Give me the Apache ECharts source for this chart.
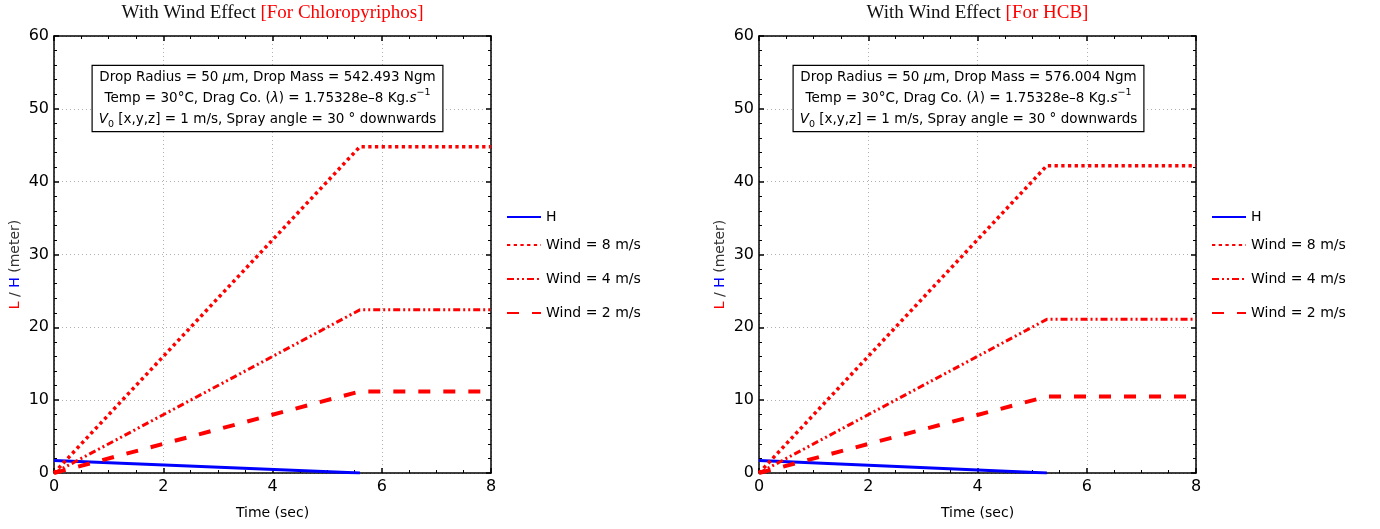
<!DOCTYPE html>
<html>
<head>
<meta charset="utf-8">
<script src="https://cdn.jsdelivr.net/npm/echarts@6/dist/echarts.min.js"></script>
<style>
  html, body { margin: 0; padding: 0; background: #fff; }
  #chart { width: 1380px; height: 529px; }
</style>
</head>
<body>
<div id="chart"></div>
<script>
// time (sec) at start, at landing, and end of axis
const timeLeft = [0, 5.6, 8];
const heightLeft = [1.7, 0];
const wind8Left = [0, 44.8, 44.8];
const wind4Left = [0, 22.4, 22.4];
const wind2Left = [0, 11.2, 11.2];

const timeRight = [0, 5.27, 8];
const heightRight = [1.7, 0];
const wind8Right = [0, 42.2, 42.2];
const wind4Right = [0, 21.1, 21.1];
const wind2Right = [0, 10.5, 10.5];

const xTicks = [0, 2, 4, 6, 8];
const yTicks = [0, 10, 20, 30, 40, 50, 60];
const seriesNames = ['H', 'Wind = 8 m/s', 'Wind = 4 m/s', 'Wind = 2 m/s'];
const compounds = ['Chloropyriphos', 'HCB'];
const dropMass = ['542.493', '576.004'];

const panels = [
  { left: 54, boxShift: -5, time: timeLeft, h: heightLeft, w8: wind8Left, w4: wind4Left, w2: wind2Left },
  { left: 759, boxShift: -9, time: timeRight, h: heightRight, w8: wind8Right, w4: wind4Right, w2: wind2Right }
];

const SANS = 'DejaVu Sans';
const PLOT = 437;
const TOP = 36;

const pair = (t, v) => v.map((y, i) => [t[i], y]);

const grid = [], xAxis = [], yAxis = [], series = [], legend = [], graphic = [];

panels.forEach((p, g) => {
  grid.push({ left: p.left, top: TOP, width: PLOT, height: PLOT });

  const frameLine = { show: true, onZero: false, lineStyle: { color: '#000', width: 1.5 } };
  const tick = { show: true, inside: true, length: 5, lineStyle: { color: '#000', width: 1.5 } };
  const minor = (n) => ({ show: true, splitNumber: n, length: 3, lineStyle: { color: '#000', width: 1 } });
  const dotted = { show: true, lineStyle: { color: '#b0b0b0', type: [1, 3], width: 1 } };

  xAxis.push({
    type: 'value', gridIndex: g, min: xTicks[0], max: xTicks[xTicks.length - 1], interval: 2,
    position: 'bottom',
    axisLine: frameLine, axisTick: tick, minorTick: minor(4), splitLine: dotted,
    axisLabel: { color: '#000', fontFamily: SANS, fontSize: 16, margin: 6 },
    name: 'Time (sec)', nameLocation: 'middle', nameGap: 33,
    nameTextStyle: { color: '#000', fontFamily: SANS, fontSize: 14 }
  });
  xAxis.push({
    type: 'value', gridIndex: g, min: 0, max: 8, interval: 2, position: 'top',
    axisLine: frameLine, axisTick: tick, minorTick: minor(4),
    splitLine: { show: false }, axisLabel: { show: false }
  });
  yAxis.push({
    type: 'value', gridIndex: g, min: yTicks[0], max: yTicks[yTicks.length - 1], interval: 10,
    position: 'left',
    axisLine: frameLine, axisTick: tick, minorTick: minor(5), splitLine: dotted,
    axisLabel: { color: '#000', fontFamily: SANS, fontSize: 16, margin: 5 },
    name: '{l|L} / {h|H} (meter)', nameLocation: 'middle', nameGap: 32, nameRotate: 90,
    nameTextStyle: {
      color: '#333', fontFamily: SANS, fontSize: 14, padding: [0, 20, 0, 0],
      rich: {
        l: { color: '#ff0000', fontFamily: SANS, fontSize: 14 },
        h: { color: '#0000ff', fontFamily: SANS, fontSize: 14 }
      }
    }
  });
  yAxis.push({
    type: 'value', gridIndex: g, min: 0, max: 60, interval: 10, position: 'right',
    axisLine: frameLine, axisTick: tick, minorTick: minor(5),
    splitLine: { show: false }, axisLabel: { show: false }
  });

  const xi = g * 2, yi = g * 2;
  const base = { type: 'line', xAxisIndex: xi, yAxisIndex: yi, showSymbol: false, symbol: 'none', animation: false, silent: true };
  series.push(
    { ...base, name: seriesNames[0], data: pair(p.time, p.h),
      lineStyle: { color: '#0000ff', width: 3 }, itemStyle: { color: '#0000ff' } },
    { ...base, name: seriesNames[1], data: pair(p.time, p.w8),
      lineStyle: { color: '#ff0000', width: 3.5, type: [3.3, 3.4] }, itemStyle: { color: '#ff0000' } },
    { ...base, name: seriesNames[2], data: pair(p.time, p.w4),
      lineStyle: { color: '#ff0000', width: 3, type: [7, 3, 2, 3, 2, 3] }, itemStyle: { color: '#ff0000' } },
    { ...base, name: seriesNames[3], data: pair(p.time, p.w2),
      lineStyle: { color: '#ff0000', width: 4, type: [12, 13] }, itemStyle: { color: '#ff0000' } }
  );

  const legendTops = [205, 233, 267, 301];
  seriesNames.forEach((n, k) => {
    legend.push({
      data: [n], left: p.left + PLOT + 10, top: legendTops[k], orient: 'vertical',
      itemWidth: 34, itemHeight: 14, itemGap: 6, selectedMode: false,
      itemStyle: { opacity: 0 },
      textStyle: { color: '#000', fontFamily: SANS, fontSize: 14 }
    });
  });

  // panel title
  graphic.push({
    type: 'text', x: p.left + PLOT / 2, y: 4,
    style: {
      text: '{a|With Wind Effect }{b|[For ' + compounds[g] + ']}',
      align: 'center', verticalAlign: 'top',
      rich: {
        a: { fill: '#111', fontFamily: 'Liberation Serif', fontSize: 19 },
        b: { fill: '#ff0000', fontFamily: 'Liberation Serif', fontSize: 19 }
      }
    }
  });

  // parameter box
  const r = { fill: '#000', fontFamily: SANS, fontSize: 13.5, lineHeight: 21 };
  const it = { ...r, fontStyle: 'italic' };
  graphic.push({
    type: 'text', x: p.left + PLOT / 2 + p.boxShift, y: 66, z: 100,
    style: {
      text: [
        '{r|Drop Radius = 50 }{i|μ}{r|m, Drop Mass = ' + dropMass[g] + ' Ngm}',
        '{r|Temp = 30°C, Drag Co. (}{i|λ}{r|) = 1.75328e–8 Kg.}{i|s}{sup|−1}',
        '{i|V}{sub|0}{r| [x,y,z] = 1 m/s, Spray angle = 30 ° downwards}'
      ].join('\n'),
      align: 'center', verticalAlign: 'top',
      backgroundColor: '#fff', borderColor: '#000', borderWidth: 1.2,
      padding: [1, 6, 1, 6],
      rich: {
        r: r, i: it,
        sup: { fill: '#000', fontFamily: SANS, fontSize: 9.5, lineHeight: 21, verticalAlign: 'top', padding: [0, 0, 8, 0] },
        sub: { fill: '#000', fontFamily: SANS, fontSize: 9.5, lineHeight: 21, verticalAlign: 'bottom', padding: [6, 0, 0, 0] }
      }
    }
  });
});

const chart = echarts.init(document.getElementById('chart'), null, { renderer: 'canvas' });
chart.setOption({
  animation: false,
  backgroundColor: '#fff',
  grid, xAxis, yAxis, series, legend, graphic
});
</script>
</body>
</html>
